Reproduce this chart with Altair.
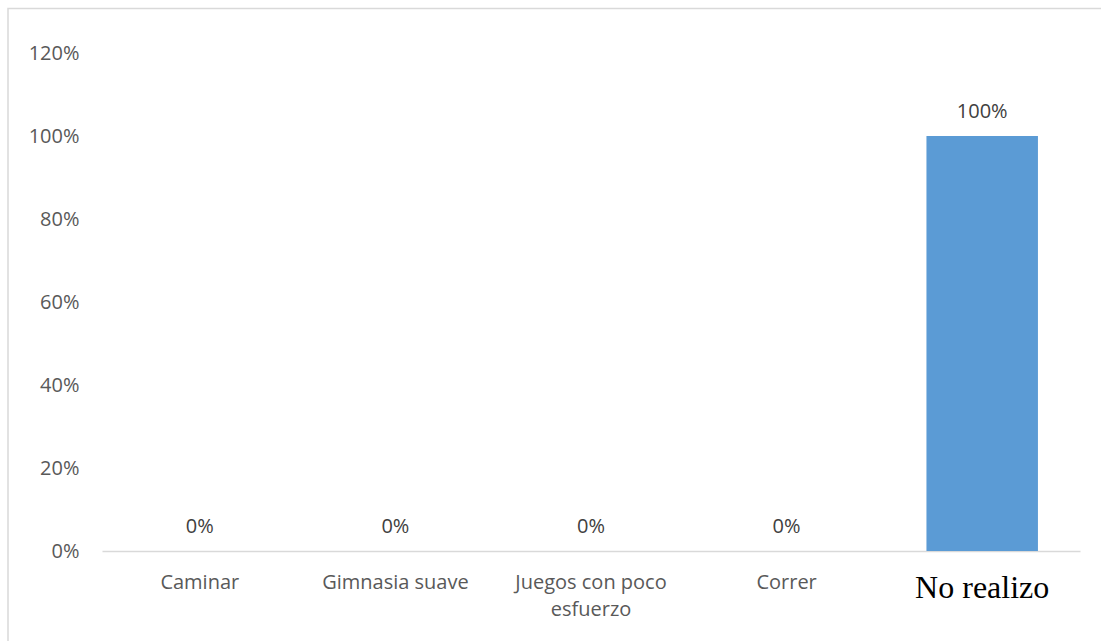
import altair as alt
import pandas as pd

categories = ["Caminar", "Gimnasia suave", "Juegos con poco esfuerzo", "Correr", "No realizo"]
values = [0.0, 0.0, 0.0, 0.0, 1.0]
y_ticks = [0, 0.2, 0.4, 0.6, 0.8, 1.0, 1.2]

df = pd.DataFrame({"cat": categories, "val": values})

PLOT_W = 978
PLOT_H = 498
LEFT = 102
TOP = 53

base = alt.Chart(df)

x_enc = alt.X(
    "cat:N",
    sort=categories,
    scale=alt.Scale(paddingInner=0.43, paddingOuter=0.215),
    axis=alt.Axis(
        title=None,
        labelAngle=0,
        ticks=False,
        domainColor="#D9D9D9",
        domainWidth=1.5,
        labelPadding=21,
        labelLimit=300,
        labelLineHeight=27,
        labelExpr="datum.value == 'Juegos con poco esfuerzo' ? ['Juegos con poco', 'esfuerzo'] : datum.value",
        labelFont={"condition": {"test": "datum.value == 'No realizo'", "value": "Liberation Serif"}, "value": "Open Sans"},
        labelFontSize={"condition": {"test": "datum.value == 'No realizo'", "value": 32}, "value": 20},
        labelColor={"condition": {"test": "datum.value == 'No realizo'", "value": "#000000"}, "value": "#595959"},
    ),
)

y_enc = alt.Y(
    "val:Q",
    scale=alt.Scale(domain=[0, 1.2], nice=False),
    axis=alt.Axis(
        title=None,
        values=y_ticks,
        format=".0%",
        grid=False,
        domain=False,
        ticks=False,
        labelPadding=23,
        labelFont="Open Sans",
        labelFontSize=20,
        labelColor="#595959",
    ),
)

bars = base.mark_bar(color="#5B9BD5").encode(x=x_enc, y=y_enc)

labels = base.mark_text(
    dy=-24, baseline="middle", font="Open Sans", fontSize=20, color="#404040"
).encode(x=alt.X("cat:N", sort=categories), y="val:Q", text=alt.Text("val:Q", format=".0%"))

border = alt.Chart(pd.DataFrame({"a": [0]})).mark_rect(
    fill=None, stroke="#D9D9D9", strokeWidth=1.5
).encode(
    x=alt.value(8 - LEFT), x2=alt.value(1120 - LEFT),
    y=alt.value(8.5 - TOP), y2=alt.value(660 - TOP),
)

chart = alt.layer(border, bars, labels).properties(
    width=PLOT_W,
    height=PLOT_H,
    background="white",
    autosize=alt.AutoSizeParams(type="none"),
    padding={"left": LEFT, "top": TOP, "right": 1101 - LEFT - PLOT_W, "bottom": 641 - TOP - PLOT_H},
).configure_view(strokeWidth=0)

chart.save("out.html", embed_options={"renderer": "svg", "actions": False})
